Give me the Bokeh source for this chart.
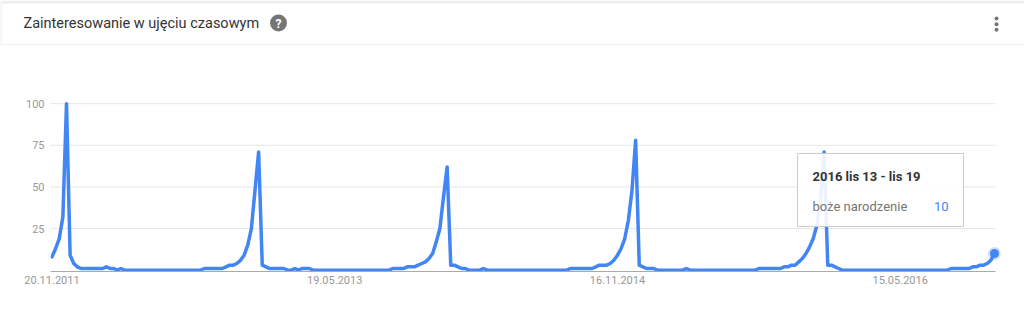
from bokeh.plotting import figure
from bokeh.models import Range1d, FixedTicker
from bokeh.core.properties import value
from bokeh.embed import file_html
from bokeh.resources import INLINE

# ---- data (weekly values, 2011-11-20 .. 2016-11-13) ----
title_text = "Zainteresowanie w ujęciu czasowym"
series_name = "boże narodzenie"
tooltip_title = "2016 lis 13 - lis 19"

interest = [
    8, 13, 19, 32, 100, 9, 4, 2, 1, 1,
    1, 1, 1, 1, 1, 2, 1, 1, 0, 1,
    0, 0, 0, 0, 0, 0, 0, 0, 0, 0,
    0, 0, 0, 0, 0, 0, 0, 0, 0, 0,
    0, 0, 1, 1, 1, 1, 1, 1, 2, 3,
    3, 4, 6, 9, 15, 25, 48, 71, 3, 2,
    1, 1, 1, 1, 1, 0, 0, 1, 0, 1,
    1, 1, 0, 0, 0, 0, 0, 0, 0, 0,
    0, 0, 0, 0, 0, 0, 0, 0, 0, 0,
    0, 0, 0, 0, 1, 1, 1, 1, 2, 2,
    2, 3, 4, 5, 7, 10, 17, 25, 44, 62,
    3, 3, 2, 1, 1, 0, 0, 0, 0, 1,
    0, 0, 0, 0, 0, 0, 0, 0, 0, 0,
    0, 0, 0, 0, 0, 0, 0, 0, 0, 0,
    0, 0, 0, 1, 1, 1, 1, 1, 1, 1,
    2, 3, 3, 3, 4, 6, 9, 13, 19, 30,
    48, 78, 3, 2, 1, 1, 1, 0, 0, 0,
    0, 0, 0, 0, 0, 1, 0, 0, 0, 0,
    0, 0, 0, 0, 0, 0, 0, 0, 0, 0,
    0, 0, 0, 0, 0, 1, 1, 1, 1, 1,
    1, 1, 2, 2, 3, 3, 5, 7, 10, 14,
    19, 27, 42, 71, 3, 3, 2, 1, 0, 0,
    0, 0, 0, 0, 0, 0, 0, 0, 0, 0,
    0, 0, 0, 0, 0, 0, 0, 0, 0, 0,
    0, 0, 0, 0, 0, 0, 0, 0, 1, 1,
    1, 1, 1, 1, 2, 2, 3, 3, 4, 6,
    10,
]
weeks = list(range(len(interest)))

x_tick_weeks = [0, 78, 156, 234]
x_tick_labels = ["20.11.2011", "19.05.2013", "16.11.2014", "15.05.2016"]
y_ticks = [25, 50, 75, 100]

BLUE = "#4285f4"
FONT = value("Roboto")

# ---- header (separate root, so it is not frame-aligned with the chart) ----
h = figure(width=1024, height=45, x_range=Range1d(0, 1024), y_range=Range1d(45, 0),
           toolbar_location=None, output_backend="svg", x_axis_type=None, y_axis_type=None,
           min_border=0, min_border_left=0, min_border_right=0, min_border_top=0,
           min_border_bottom=0, title=None)
h.outline_line_color = None
h.quad(left=0, right=1024, top=0, bottom=3, fill_color="#eeeeee", line_color=None)
h.segment(x0=0, y0=44.5, x1=1024, y1=44.5, line_color="#e0e0e0", line_width=1)
h.segment(x0=0.5, y0=3, x1=0.5, y1=45, line_color="#e6e6e6", line_width=1)
h.text(x=[23], y=[23], text=[title_text], text_font=FONT, text_font_size="14.5px",
       text_color="#333333", text_baseline="middle", text_align="left")
h.scatter(x=[278], y=[22.5], size=17, fill_color="#757575", line_color=None)
h.text(x=[278], y=[23], text=["?"], text_font=FONT, text_font_size="12px",
       text_font_style="bold", text_color="white", text_baseline="middle", text_align="center")
h.scatter(x=[996, 996, 996], y=[18, 23.7, 29.3], size=4, fill_color="#757575", line_color=None)

# ---- chart ----
BL, BR = 50, 24
FL, FR = BL, 1024 - BR
X0, X1 = -0.414, 261.655
p = figure(width=1024, height=290, x_range=Range1d(X0, X1), y_range=Range1d(-0.8, 103.1),
           toolbar_location=None, output_backend="svg", title=None,
           min_border_left=BL, min_border_right=BR, min_border_top=53, min_border_bottom=64)
p.outline_line_color = None
p.xgrid.visible = False
p.ygrid.visible = False
p.extra_x_ranges = {"px": Range1d(FL, FR)}
p.extra_y_ranges = {"px": Range1d(271, 98)}

x_end = weeks[-1] + 0.3
p.segment(x0=[X0] * len(y_ticks), y0=y_ticks, x1=[x_end] * len(y_ticks), y1=y_ticks,
          line_color="#e6e6e6", line_width=1)

p.line(weeks, interest, line_color=BLUE, line_width=3.5, line_join="round", line_cap="round")
p.scatter([weeks[-1]], [interest[-1]], size=13, fill_color=BLUE, fill_alpha=0.25, line_color=None)
p.scatter([weeks[-1]], [interest[-1]], size=9, fill_color=BLUE, line_color=None)

# tooltip box
p.quad(left=797, right=963, top=153, bottom=226, fill_color="white", fill_alpha=0.9,
       line_color="#cccccc", line_width=1, x_range_name="px", y_range_name="px")
p.text(x=[812], y=[175.5], text=[tooltip_title], text_font=FONT, text_font_size="13px",
       text_font_style="bold", text_color="#333333", text_baseline="middle",
       x_range_name="px", y_range_name="px")
p.text(x=[812], y=[205.5], text=[series_name], text_font=FONT, text_font_size="13px",
       text_color="#757575", text_baseline="middle", x_range_name="px", y_range_name="px")
p.text(x=[948], y=[205.5], text=[str(interest[-1])], text_font=FONT, text_font_size="13px",
       text_color=BLUE, text_baseline="middle", text_align="right",
       x_range_name="px", y_range_name="px")

# axes
xa = p.xaxis[0]
xa.ticker = FixedTicker(ticks=x_tick_weeks)
xa.major_label_overrides = {w: lab for w, lab in zip(x_tick_weeks, x_tick_labels)}
xa.bounds = (X0, x_end)
xa.axis_line_color = "#aaaaaa"
xa.major_tick_line_color = None
xa.minor_tick_line_color = None
xa.major_tick_out = 0
xa.major_tick_in = 0
xa.minor_tick_out = 0
xa.major_label_standoff = 4
xa.major_label_text_font = "Roboto"
xa.major_label_text_font_size = "11px"
xa.major_label_text_color = "#999999"

ya = p.yaxis[0]
ya.ticker = FixedTicker(ticks=y_ticks)
ya.axis_line_color = None
ya.major_tick_line_color = None
ya.minor_tick_line_color = None
ya.major_tick_out = 0
ya.major_tick_in = 0
ya.minor_tick_out = 0
ya.major_label_standoff = 6
ya.major_label_text_font = "Roboto"
ya.major_label_text_font_size = "11px"
ya.major_label_text_color = "#999999"

open("out.html", "w").write(file_html([h, p], INLINE))
